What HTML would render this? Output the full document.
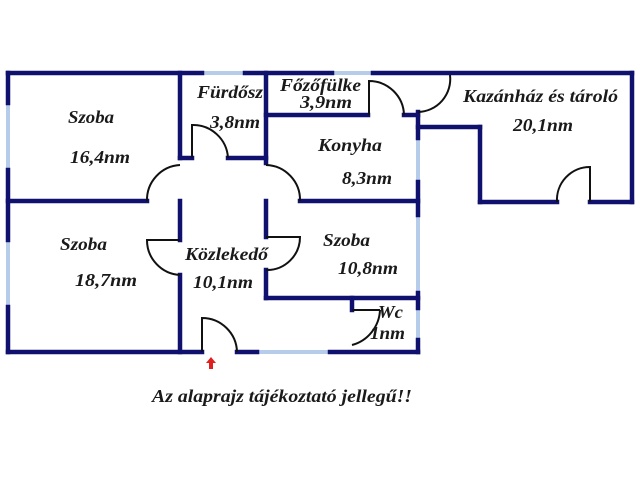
<!DOCTYPE html>
<html><head><meta charset="utf-8"><style>
html,body{margin:0;padding:0;background:#fff;width:640px;height:480px;overflow:hidden}
text{font-family:"Liberation Serif",serif;font-weight:bold;font-style:italic;font-size:18px;fill:#1a1a1a}
</style></head><body>
<svg width="640" height="480" viewBox="0 0 640 480" xmlns="http://www.w3.org/2000/svg">
<g stroke="#b5cdea" stroke-width="4" fill="none">
<line x1="202" y1="73" x2="245" y2="73"/>
<line x1="332" y1="73" x2="373" y2="73"/>
<line x1="8" y1="103" x2="8" y2="170"/>
<line x1="8" y1="240" x2="8" y2="307"/>
<line x1="257" y1="352" x2="330" y2="352"/>
<line x1="418" y1="138" x2="418" y2="182"/>
<line x1="418" y1="215" x2="418" y2="293"/>
<line x1="418" y1="308" x2="418" y2="340"/>
</g>
<g stroke="#10106e" stroke-width="4.5" fill="none" stroke-linecap="square">
<line x1="8" y1="73" x2="202" y2="73"/>
<line x1="245" y1="73" x2="332" y2="73"/>
<line x1="373" y1="73" x2="632" y2="73"/>
<line x1="8" y1="73" x2="8" y2="103"/>
<line x1="8" y1="170" x2="8" y2="240"/>
<line x1="8" y1="307" x2="8" y2="352"/>
<line x1="8" y1="352" x2="202" y2="352"/>
<line x1="237" y1="352" x2="257" y2="352"/>
<line x1="330" y1="352" x2="418" y2="352"/>
<line x1="632" y1="73" x2="632" y2="202"/>
<line x1="590" y1="202" x2="632" y2="202"/>
<line x1="480" y1="202" x2="557" y2="202"/>
<line x1="480" y1="127" x2="480" y2="202"/>
<line x1="418" y1="127" x2="480" y2="127"/>
<line x1="180" y1="73" x2="180" y2="158"/>
<line x1="180" y1="158" x2="192" y2="158"/>
<line x1="228" y1="158" x2="266" y2="158"/>
<line x1="266" y1="73" x2="266" y2="163"/>
<line x1="8" y1="201" x2="147" y2="201"/>
<line x1="180" y1="201" x2="180" y2="240"/>
<line x1="180" y1="275" x2="180" y2="352"/>
<line x1="300" y1="201" x2="418" y2="201"/>
<line x1="266" y1="201" x2="266" y2="237"/>
<line x1="266" y1="270" x2="266" y2="298"/>
<line x1="266" y1="298" x2="418" y2="298"/>
<line x1="266" y1="115" x2="368" y2="115"/>
<line x1="404" y1="115" x2="418" y2="115"/>
<line x1="418" y1="112" x2="418" y2="138"/>
<line x1="418" y1="182" x2="418" y2="215"/>
<line x1="418" y1="293" x2="418" y2="308"/>
<line x1="418" y1="340" x2="418" y2="352"/>
<line x1="352" y1="298" x2="352" y2="310"/>
</g>
<g stroke="#111" stroke-width="2" fill="none">
<path d="M192 158 V125 A35 35 0 0 1 228 158"/>
<path d="M180 165 A35 35 0 0 0 147 201"/>
<path d="M266 165 A35 35 0 0 1 300 201"/>
<path d="M180 240 H147 A35 35 0 0 0 180 275"/>
<path d="M266 237 H300 A33 33 0 0 1 266 270"/>
<path d="M202 352 V318 A35 35 0 0 1 237 352"/>
<path d="M369 115 V81 A35 35 0 0 1 404 115"/>
<path d="M450 75 A33 33 0 0 1 418 112"/>
<path d="M590 202 V167 A33 33 0 0 0 557 202"/>
<line x1="352" y1="310" x2="380" y2="310"/>
<path d="M380 310 A38 38 0 0 1 352 345"/>
</g>
<path d="M211 357 L216 363 H213 V369 H209 V363 H206 Z" fill="#e02020"/>
<text x="68" y="123" textLength="46" lengthAdjust="spacingAndGlyphs">Szoba</text>
<text x="70" y="163" textLength="60" lengthAdjust="spacingAndGlyphs">16,4nm</text>
<text x="197" y="98" textLength="66" lengthAdjust="spacingAndGlyphs">Fürdősz</text>
<text x="210" y="128" textLength="50" lengthAdjust="spacingAndGlyphs">3,8nm</text>
<text x="280" y="91" textLength="81" lengthAdjust="spacingAndGlyphs">Főzőfülke</text>
<text x="300" y="108" textLength="52" lengthAdjust="spacingAndGlyphs">3,9nm</text>
<text x="318" y="151" textLength="64" lengthAdjust="spacingAndGlyphs">Konyha</text>
<text x="342" y="184" textLength="50" lengthAdjust="spacingAndGlyphs">8,3nm</text>
<text x="463" y="102" textLength="155" lengthAdjust="spacingAndGlyphs">Kazánház és tároló</text>
<text x="513" y="131" textLength="60" lengthAdjust="spacingAndGlyphs">20,1nm</text>
<text x="60" y="250" textLength="47" lengthAdjust="spacingAndGlyphs">Szoba</text>
<text x="75" y="286" textLength="62" lengthAdjust="spacingAndGlyphs">18,7nm</text>
<text x="185" y="260" textLength="83" lengthAdjust="spacingAndGlyphs">Közlekedő</text>
<text x="193" y="288" textLength="60" lengthAdjust="spacingAndGlyphs">10,1nm</text>
<text x="323" y="246" textLength="47" lengthAdjust="spacingAndGlyphs">Szoba</text>
<text x="338" y="274" textLength="60" lengthAdjust="spacingAndGlyphs">10,8nm</text>
<text x="378" y="318" textLength="25" lengthAdjust="spacingAndGlyphs">Wc</text>
<text x="370" y="339" textLength="35" lengthAdjust="spacingAndGlyphs">1nm</text>
<text x="152" y="402" textLength="260" lengthAdjust="spacingAndGlyphs">Az alaprajz tájékoztató jellegű!!</text>
</svg>
</body></html>
